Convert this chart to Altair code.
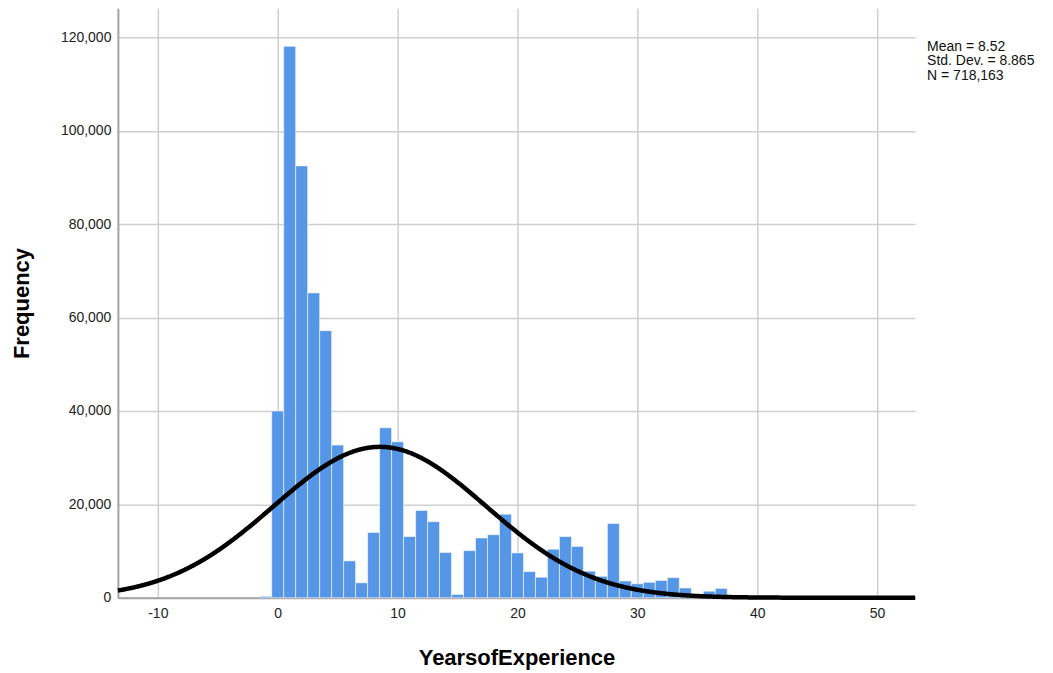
import altair as alt
import pandas as pd

# ---- data ----
years = list(range(-1, 38))
freq = [300, 40000, 118100, 92500, 65300, 57200, 32700, 7900, 3200, 14000,
        36400, 33400, 13100, 18700, 16300, 9700, 700, 10100, 12800, 13500,
        17900, 9600, 5600, 4400, 10400, 13100, 11000, 5700, 4600, 15900,
        3600, 3000, 3300, 3700, 4300, 2100, 700, 1400, 2000]
mean_val = 8.52
sd_val = 8.865
n_val = 718163
stats_lines = ["Mean = 8.52", "Std. Dev. = 8.865", "N = 718,163"]
x_ticks = [-10, 0, 10, 20, 30, 40, 50]
y_ticks = [0, 20000, 40000, 60000, 80000, 100000, 120000]

FONT = "Liberation Sans"
bars_df = pd.DataFrame({"year": years, "freq": freq})

xscale = alt.Scale(domain=[-13.33, 53.17], nice=False, zero=False)
yscale = alt.Scale(domain=[0, 126250], nice=False)
x_axis = alt.Axis(values=x_ticks, title="YearsofExperience",
                  labelExpr="toString(datum.value)",
                  ticks=False, labelPadding=9, titleY=60,
                  titleBaseline="middle")
y_axis = alt.Axis(values=y_ticks, title="Frequency", format=",.0f",
                  ticks=False, labelPadding=7, titleX=-96,
                  titleBaseline="middle")

bars = alt.Chart(bars_df).transform_calculate(
    x0="datum.year - 0.5", x1="datum.year + 0.5"
).mark_bar(
    color="#5596e6", stroke="white", strokeOpacity=0.55, strokeWidth=1
).encode(
    x=alt.X("x0:Q", scale=xscale, axis=x_axis),
    x2="x1:Q",
    y=alt.Y("freq:Q", scale=yscale, axis=y_axis),
    y2=alt.datum(0),
)

curve_expr = (f"{n_val} / ({sd_val} * sqrt(2 * PI)) * "
              f"exp(-0.5 * pow((datum.x - {mean_val}) / {sd_val}, 2))")
curve = alt.Chart(alt.sequence(-13.33, 53.2, 0.05, as_="x")).transform_calculate(
    y=curve_expr
).mark_line(color="black", strokeWidth=4.5).encode(
    x=alt.X("x:Q", scale=xscale, axis=x_axis),
    y=alt.Y("y:Q", scale=yscale, axis=y_axis),
)

stats = alt.Chart(pd.DataFrame({"t": ["\n".join(stats_lines)]})).mark_text(
    align="left", baseline="middle", fontSize=14, font=FONT, lineBreak="\n",
    lineHeight=14.5, color="#111111"
).encode(text="t:N", x=alt.value(810), y=alt.value(38.7))

chart = alt.layer(bars, curve, stats).properties(
    width=798, height=590,
    autosize=alt.AutoSizeParams(type="none"),
    padding={"left": 110, "top": 0, "right": 130, "bottom": 75},
).configure_view(stroke=None).configure_axis(
    labelFont=FONT, titleFont=FONT, labelFontSize=14, titleFontSize=22,
    titleFontWeight="bold", labelColor="#222222", titleColor="#000000",
    gridColor="#cfcfcf", gridWidth=1.5, domainColor="#a3a3a3", domainWidth=2,
)

chart.save("out.html", embed_options={"renderer": "svg", "actions": False})
